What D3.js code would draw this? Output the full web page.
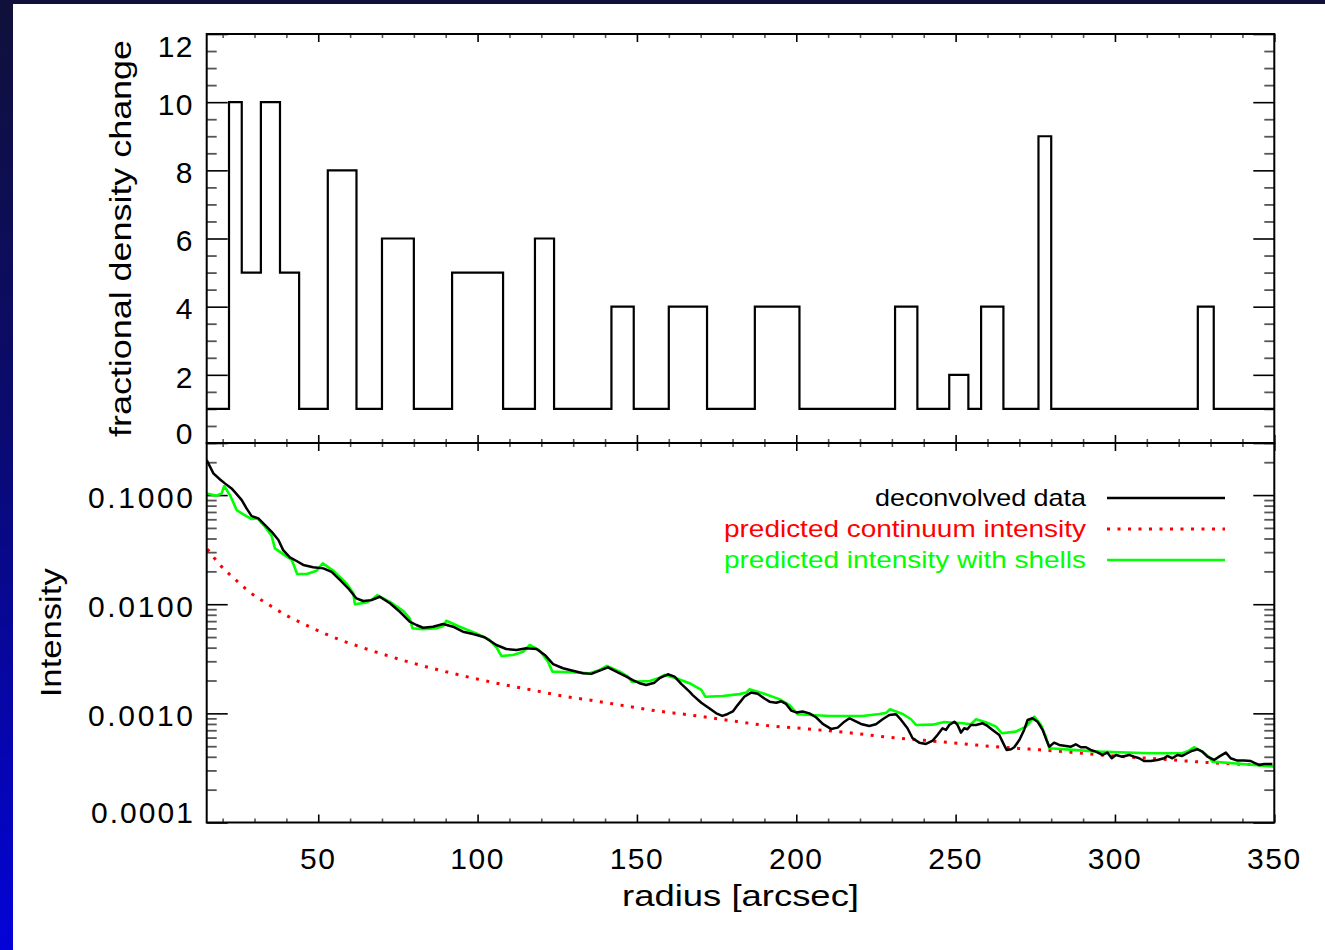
<!DOCTYPE html>
<html><head><meta charset="utf-8">
<script src="https://cdn.jsdelivr.net/npm/d3@7"></script>
<style>html,body{margin:0;padding:0;background:#fff;overflow:hidden} svg{display:block}</style>
</head><body>
<svg id="chart" width="1325" height="950"></svg>
<script>
// ---------------- data ----------------
const shellEdges = [15,22,26,32,38,44,53,62,70,80,92,108,118,124,142,149,160,172,187,201,231,238,248,254,258,265,276,280,326,331,350];
const densityChange = [1,10,5,10,5,1,8,1,6,1,5,1,6,1,4,1,4,1,4,1,4,1,2,1,4,1,9,1,4,1];

const topTickValues = [0,2,4,6,8,10,12];
const radiusTickValues = [50,100,150,200,250,300,350];
const intensityTickValues = [0.1,0.01,0.001,0.0001];
const intensityTickLabels = ["0.1000","0.0100","0.0010","0.0001"];

const dataRadius = [15.0,17.1,19.2,20.7,22.8,24.4,26.0,27.5,29.1,31.2,33.3,35.4,37.5,39.0,41.1,43.2,45.3,48.4,51.6,54.2,56.8,59.4,62.0,64.1,66.7,69.3,72.5,75.6,78.7,80.8,82.9,86.0,89.2,92.3,95.4,98.6,102.2,105.9,109.0,112.2,115.3,118.5,121.1,123.7,126.8,129.9,133.1,135.7,138.3,140.9,144.0,146.7,148.7,150.8,152.9,155.5,157.1,159.7,161.8,163.9,166.5,167.5,170.2,172.8,174.9,176.8,178.5,180.1,181.6,183.7,185.8,187.9,190.0,191.6,193.7,195.3,196.8,198.4,200.0,202.0,204.1,206.2,208.3,210.9,213.0,215.1,216.7,218.2,220.3,222.9,225.0,227.1,229.2,231.3,232.9,234.9,236.5,238.6,240.7,242.8,244.3,245.9,247.0,248.0,249.6,250.6,251.7,252.7,253.7,254.8,256.4,258.5,260.0,261.6,263.7,264.7,266.0,267.4,268.4,270.0,271.5,272.6,274.1,275.7,277.3,278.5,279.4,280.9,282.5,284.6,286.2,287.7,289.3,290.9,292.4,294.0,296.1,297.6,299.0,300.3,302.3,304.4,306.0,307.6,309.1,311.2,313.3,315.4,316.4,318.0,319.6,321.1,322.7,324.3,325.9,327.4,329.0,331.1,332.7,334.8,336.3,338.4,340.5,342.6,343.6,345.2,346.8,349.4];
const dataIntensity = [0.209,0.158,0.139,0.128,0.115,0.102,0.0900,0.0755,0.0642,0.0612,0.0531,0.0461,0.0387,0.0313,0.0269,0.0249,0.0229,0.0218,0.0213,0.0198,0.0167,0.0140,0.0113,0.0107,0.0109,0.0117,0.0102,0.00853,0.00691,0.00645,0.00609,0.00622,0.00659,0.00622,0.00560,0.00533,0.00498,0.00423,0.00389,0.00381,0.00395,0.00389,0.00343,0.00283,0.00259,0.00246,0.00233,0.00230,0.00246,0.00264,0.00238,0.00217,0.00202,0.00189,0.00182,0.00191,0.00210,0.00228,0.00217,0.00186,0.00158,0.00147,0.00125,0.00111,0.00100,0.000947,0.000987,0.00104,0.00119,0.00142,0.00155,0.00151,0.00137,0.00128,0.00125,0.00129,0.00122,0.00106,0.00102,0.00104,0.00100,0.000921,0.000800,0.000720,0.000740,0.000839,0.000902,0.000857,0.000800,0.000767,0.000795,0.000883,0.000967,0.000981,0.000870,0.000730,0.000592,0.000539,0.000525,0.000562,0.000634,0.000730,0.000705,0.000783,0.000839,0.000783,0.000666,0.000730,0.000715,0.000783,0.000783,0.000811,0.000767,0.000705,0.000634,0.000551,0.000462,0.000469,0.000489,0.000571,0.000705,0.000870,0.000902,0.000839,0.000705,0.000571,0.000495,0.000539,0.000514,0.000503,0.000495,0.000521,0.000489,0.000489,0.000462,0.000446,0.000416,0.000437,0.000388,0.000416,0.000401,0.000416,0.000401,0.000388,0.000366,0.000366,0.000374,0.000388,0.000407,0.000388,0.000416,0.000407,0.000431,0.000455,0.000469,0.000446,0.000401,0.000374,0.000401,0.000437,0.000388,0.000369,0.000369,0.000366,0.000354,0.000337,0.000344,0.000344];

const modelRadius = [15.0,18.1,19.7,20.5,22.3,24.4,26.5,29.1,30.9,33.3,35.4,36.4,39.0,41.7,43.4,46.4,49.5,51.4,54.7,58.9,61.0,61.5,65.2,67.2,68.5,72.5,76.6,78.7,79.6,82.9,87.1,89.2,90.2,94.4,99.6,103.8,106.1,107.5,111.1,114.3,116.4,119.5,122.1,123.5,128.9,135.2,138.3,140.6,144.6,147.2,148.4,154.0,157.1,158.7,162.3,166.5,170.2,171.5,176.9,182.2,184.3,185.3,189.5,194.7,197.9,200.5,210.4,220.8,226.1,228.2,229.4,233.4,236.0,237.6,242.8,246.4,252.2,254.8,256.4,259.5,262.7,264.5,268.9,272.1,274.7,276.8,278.3,279.4,295.0,310.7,321.1,323.2,324.8,327.4,329.5,330.6,340.0,349.9];
const modelIntensity = [0.1036,0.0985,0.1036,0.121,0.100,0.0729,0.0666,0.0603,0.0612,0.0513,0.0421,0.0325,0.0288,0.0254,0.0189,0.0189,0.0203,0.0237,0.0203,0.0155,0.0126,0.0100,0.0104,0.0112,0.0121,0.0105,0.00872,0.00743,0.00602,0.00589,0.00602,0.00632,0.00706,0.00622,0.00541,0.00470,0.00395,0.00335,0.00343,0.00367,0.00423,0.00375,0.00297,0.00241,0.00238,0.00233,0.00250,0.00272,0.00241,0.00217,0.00195,0.00198,0.00212,0.00225,0.00210,0.00189,0.00164,0.00142,0.00144,0.00150,0.00155,0.00166,0.00153,0.00135,0.00119,0.000981,0.000947,0.000947,0.000987,0.00101,0.00109,0.000987,0.000883,0.000783,0.000788,0.000834,0.000811,0.000795,0.000883,0.000829,0.000755,0.000657,0.000680,0.000755,0.000933,0.000783,0.000612,0.000479,0.000446,0.000431,0.000431,0.000455,0.000489,0.000446,0.000401,0.000361,0.000344,0.000325];

const continuumRadius = [15.2,19.2,23.9,28.8,34.3,39.8,45.5,51.4,57.6,63.6,78.7,88.7,98.1,107.5,116.9,126.8,136.2,145.6,155.5,164.9,178.0,191.1,203.6,216.1,229.2,242.3,264.7,281.5,298.2,313.8,329.5,350.0];
const continuumIntensity = [0.0320,0.0229,0.0169,0.0127,0.00998,0.00796,0.00659,0.00548,0.00463,0.00403,0.00294,0.00246,0.00212,0.00185,0.00164,0.00144,0.00131,0.00118,0.00106,0.000981,0.000870,0.000772,0.000720,0.000666,0.000604,0.000559,0.000489,0.000452,0.000410,0.000382,0.000354,0.000333];

const legendLabels = ["deconvolved data","predicted continuum intensity","predicted intensity with shells"];
const legendColors = ["#000000","#ff0000","#00ff00"];

// ---------------- layout ----------------
const W = 1325, H = 950;
const L = 206.7, R = 1274.3, T1 = 34, B1 = 443, T2 = 443, B2 = 822.5;
const FONT = "'Liberation Sans', Arial, sans-serif";

const svg = d3.select("#chart");
const defs = svg.append("defs");
const grad = defs.append("linearGradient").attr("id","bg").attr("x1",0).attr("y1",0).attr("x2",0).attr("y2",1);
grad.append("stop").attr("offset","0%").attr("stop-color","#10103a");
grad.append("stop").attr("offset","45%").attr("stop-color","#0a0a70");
grad.append("stop").attr("offset","100%").attr("stop-color","#0303d8");
svg.append("rect").attr("width",W).attr("height",H).attr("fill","url(#bg)");
svg.append("rect").attr("x",13).attr("y",4).attr("width",W-13).attr("height",H-4).attr("fill","#fff");

defs.append("clipPath").attr("id","clipTop").append("rect").attr("x",L).attr("y",T1).attr("width",R-L).attr("height",B1-T1);
defs.append("clipPath").attr("id","clipBot").append("rect").attr("x",L).attr("y",T2).attr("width",R-L).attr("height",B2-T2);

const x = d3.scaleLinear().domain([15,350]).range([L,R]);
const yTop = d3.scaleLinear().domain([0,12]).range([B1,T1]);
const yBot = d3.scaleLog().domain([1e-4,0.3]).range([B2,T2]);

// ---------------- ticks ----------------
function tickGroup(axisFn, scale, values, size, tx, ty, color, width){
  const g = svg.append("g").attr("transform",`translate(${tx},${ty})`)
    .call(axisFn(scale).tickValues(values).tickSize(size).tickSizeOuter(0).tickFormat(""));
  g.select(".domain").remove();
  g.selectAll("line").attr("stroke",color).attr("stroke-width",width);
  return g;
}
const xMinor = d3.range(20,350,10).filter(v => v % 50 !== 0);
const yTopMinor = d3.range(0,12.01,0.5).filter(v => v % 2 !== 0);
const yBotMinor = [];
[1e-4,1e-3,1e-2,1e-1].forEach(d => { for (let k=2;k<=9;k++){ const v=d*k; if (v<=0.3+1e-9) yBotMinor.push(v);} });

// top panel
tickGroup(d3.axisLeft, yTop, topTickValues, -21, L, 0, "#000", 1.6);
tickGroup(d3.axisLeft, yTop, yTopMinor, -10, L, 0, "#555", 1.8);
tickGroup(d3.axisRight, yTop, topTickValues, -21, R, 0, "#000", 1.6);
tickGroup(d3.axisRight, yTop, yTopMinor, -10, R, 0, "#555", 1.8);
tickGroup(d3.axisTop, x, radiusTickValues, -8, 0, T1, "#000", 1.6);
tickGroup(d3.axisTop, x, xMinor, -4, 0, T1, "#555", 1.6);
tickGroup(d3.axisBottom, x, radiusTickValues, -8, 0, B1, "#000", 1.6);
tickGroup(d3.axisBottom, x, xMinor, -4, 0, B1, "#555", 1.6);
// bottom panel
tickGroup(d3.axisLeft, yBot, intensityTickValues, -21, L, 0, "#000", 1.6);
tickGroup(d3.axisLeft, yBot, yBotMinor, -10, L, 0, "#555", 1.8);
tickGroup(d3.axisRight, yBot, intensityTickValues, -21, R, 0, "#000", 1.6);
tickGroup(d3.axisRight, yBot, yBotMinor, -10, R, 0, "#555", 1.8);
tickGroup(d3.axisTop, x, radiusTickValues, -8, 0, T2, "#000", 1.6);
tickGroup(d3.axisTop, x, xMinor, -4, 0, T2, "#555", 1.6);
tickGroup(d3.axisBottom, x, radiusTickValues, -8, 0, B2, "#000", 1.6);
tickGroup(d3.axisBottom, x, xMinor, -4, 0, B2, "#555", 1.6);

// ---------------- marks ----------------
const histPts = shellEdges.map((e,i) => [e, densityChange[Math.min(i, densityChange.length-1)]]);
svg.append("path").datum(histPts).attr("clip-path","url(#clipTop)")
  .attr("fill","none").attr("stroke","#000").attr("stroke-width",2.2).attr("stroke-linejoin","miter")
  .attr("d", d3.line().x(d=>x(d[0])).y(d=>yTop(d[1])).curve(d3.curveStepAfter));

const gBot = svg.append("g").attr("clip-path","url(#clipBot)");
gBot.append("path").datum(d3.zip(continuumRadius, continuumIntensity))
  .attr("fill","none").attr("stroke","#ff0000").attr("stroke-width",3).attr("stroke-dasharray","3,7.5")
  .attr("d", d3.line().x(d=>x(d[0])).y(d=>yBot(d[1])).curve(d3.curveMonotoneX));
gBot.append("path").datum(d3.zip(modelRadius, modelIntensity))
  .attr("fill","none").attr("stroke","#00ff00").attr("stroke-width",2.6).attr("stroke-linejoin","round")
  .attr("d", d3.line().x(d=>x(d[0])).y(d=>yBot(d[1])));
gBot.append("path").datum(d3.zip(dataRadius, dataIntensity))
  .attr("fill","none").attr("stroke","#000").attr("stroke-width",2.5).attr("stroke-linejoin","round")
  .attr("d", d3.line().x(d=>x(d[0])).y(d=>yBot(d[1])));

// frames
svg.append("rect").attr("x",L).attr("y",T1).attr("width",R-L).attr("height",B1-T1).attr("fill","none").attr("stroke","#000").attr("stroke-width",2);
svg.append("rect").attr("x",L).attr("y",T2).attr("width",R-L).attr("height",B2-T2).attr("fill","none").attr("stroke","#000").attr("stroke-width",2);

// ---------------- text ----------------
const txt = svg.append("g").attr("font-family",FONT).attr("fill","#000");
topTickValues.forEach((v,i) => {
  let yy = yTop(v) + 12.8;
  if (i === 0) yy = yTop(v) + 1;
  if (i === topTickValues.length-1) yy = yTop(v) + 22.5;
  txt.append("text").attr("x",194).attr("y",yy).attr("text-anchor","end").attr("font-size",30)
    .attr("letter-spacing",1.5).text(v);
});
intensityTickValues.forEach((v,i) => {
  let yy = yBot(v) + 12.8;
  if (v === d3.min(intensityTickValues)) yy = yBot(v) + 0.5;
  txt.append("text").attr("x",193).attr("y",yy).attr("text-anchor","end").attr("font-size",30)
    .attr("textLength", v === d3.min(intensityTickValues) ? 102 : 105).attr("lengthAdjust","spacing")
    .text(intensityTickLabels[i]);
});
radiusTickValues.forEach(v => {
  txt.append("text").attr("x",x(v)).attr("y",869).attr("text-anchor","middle").attr("font-size",30)
    .attr("letter-spacing",1.5).text(v);
});
txt.append("text").attr("x",(L+R)/2).attr("y",906).attr("text-anchor","middle").attr("font-size",30)
  .attr("textLength",237).attr("lengthAdjust","spacingAndGlyphs").text("radius [arcsec]");
txt.append("text").attr("transform",`translate(131,${(T1+B1)/2}) rotate(-90)`).attr("text-anchor","middle").attr("font-size",30)
  .attr("textLength",397).attr("lengthAdjust","spacingAndGlyphs").text("fractional density change");
txt.append("text").attr("transform",`translate(61,${(T2+B2)/2}) rotate(-90)`).attr("text-anchor","middle").attr("font-size",30)
  .attr("textLength",129).attr("lengthAdjust","spacingAndGlyphs").text("Intensity");

// legend
const legendY = [498, 529, 560];
const legendW = [211, 362, 362];
legendLabels.forEach((lab,i) => {
  txt.append("text").attr("x",1086).attr("y",legendY[i]+8).attr("text-anchor","end").attr("font-size",24)
    .attr("fill",legendColors[i]).attr("textLength",legendW[i]).attr("lengthAdjust","spacingAndGlyphs").text(lab);
  const ln = svg.append("line").attr("x1",1107).attr("x2",1225).attr("y1",legendY[i]).attr("y2",legendY[i])
    .attr("stroke", legendColors[i]).attr("stroke-width", i===1 ? 3 : 2.5);
  if (i===1) ln.attr("stroke-dasharray","3,7.5");
});
</script>
</body></html>
